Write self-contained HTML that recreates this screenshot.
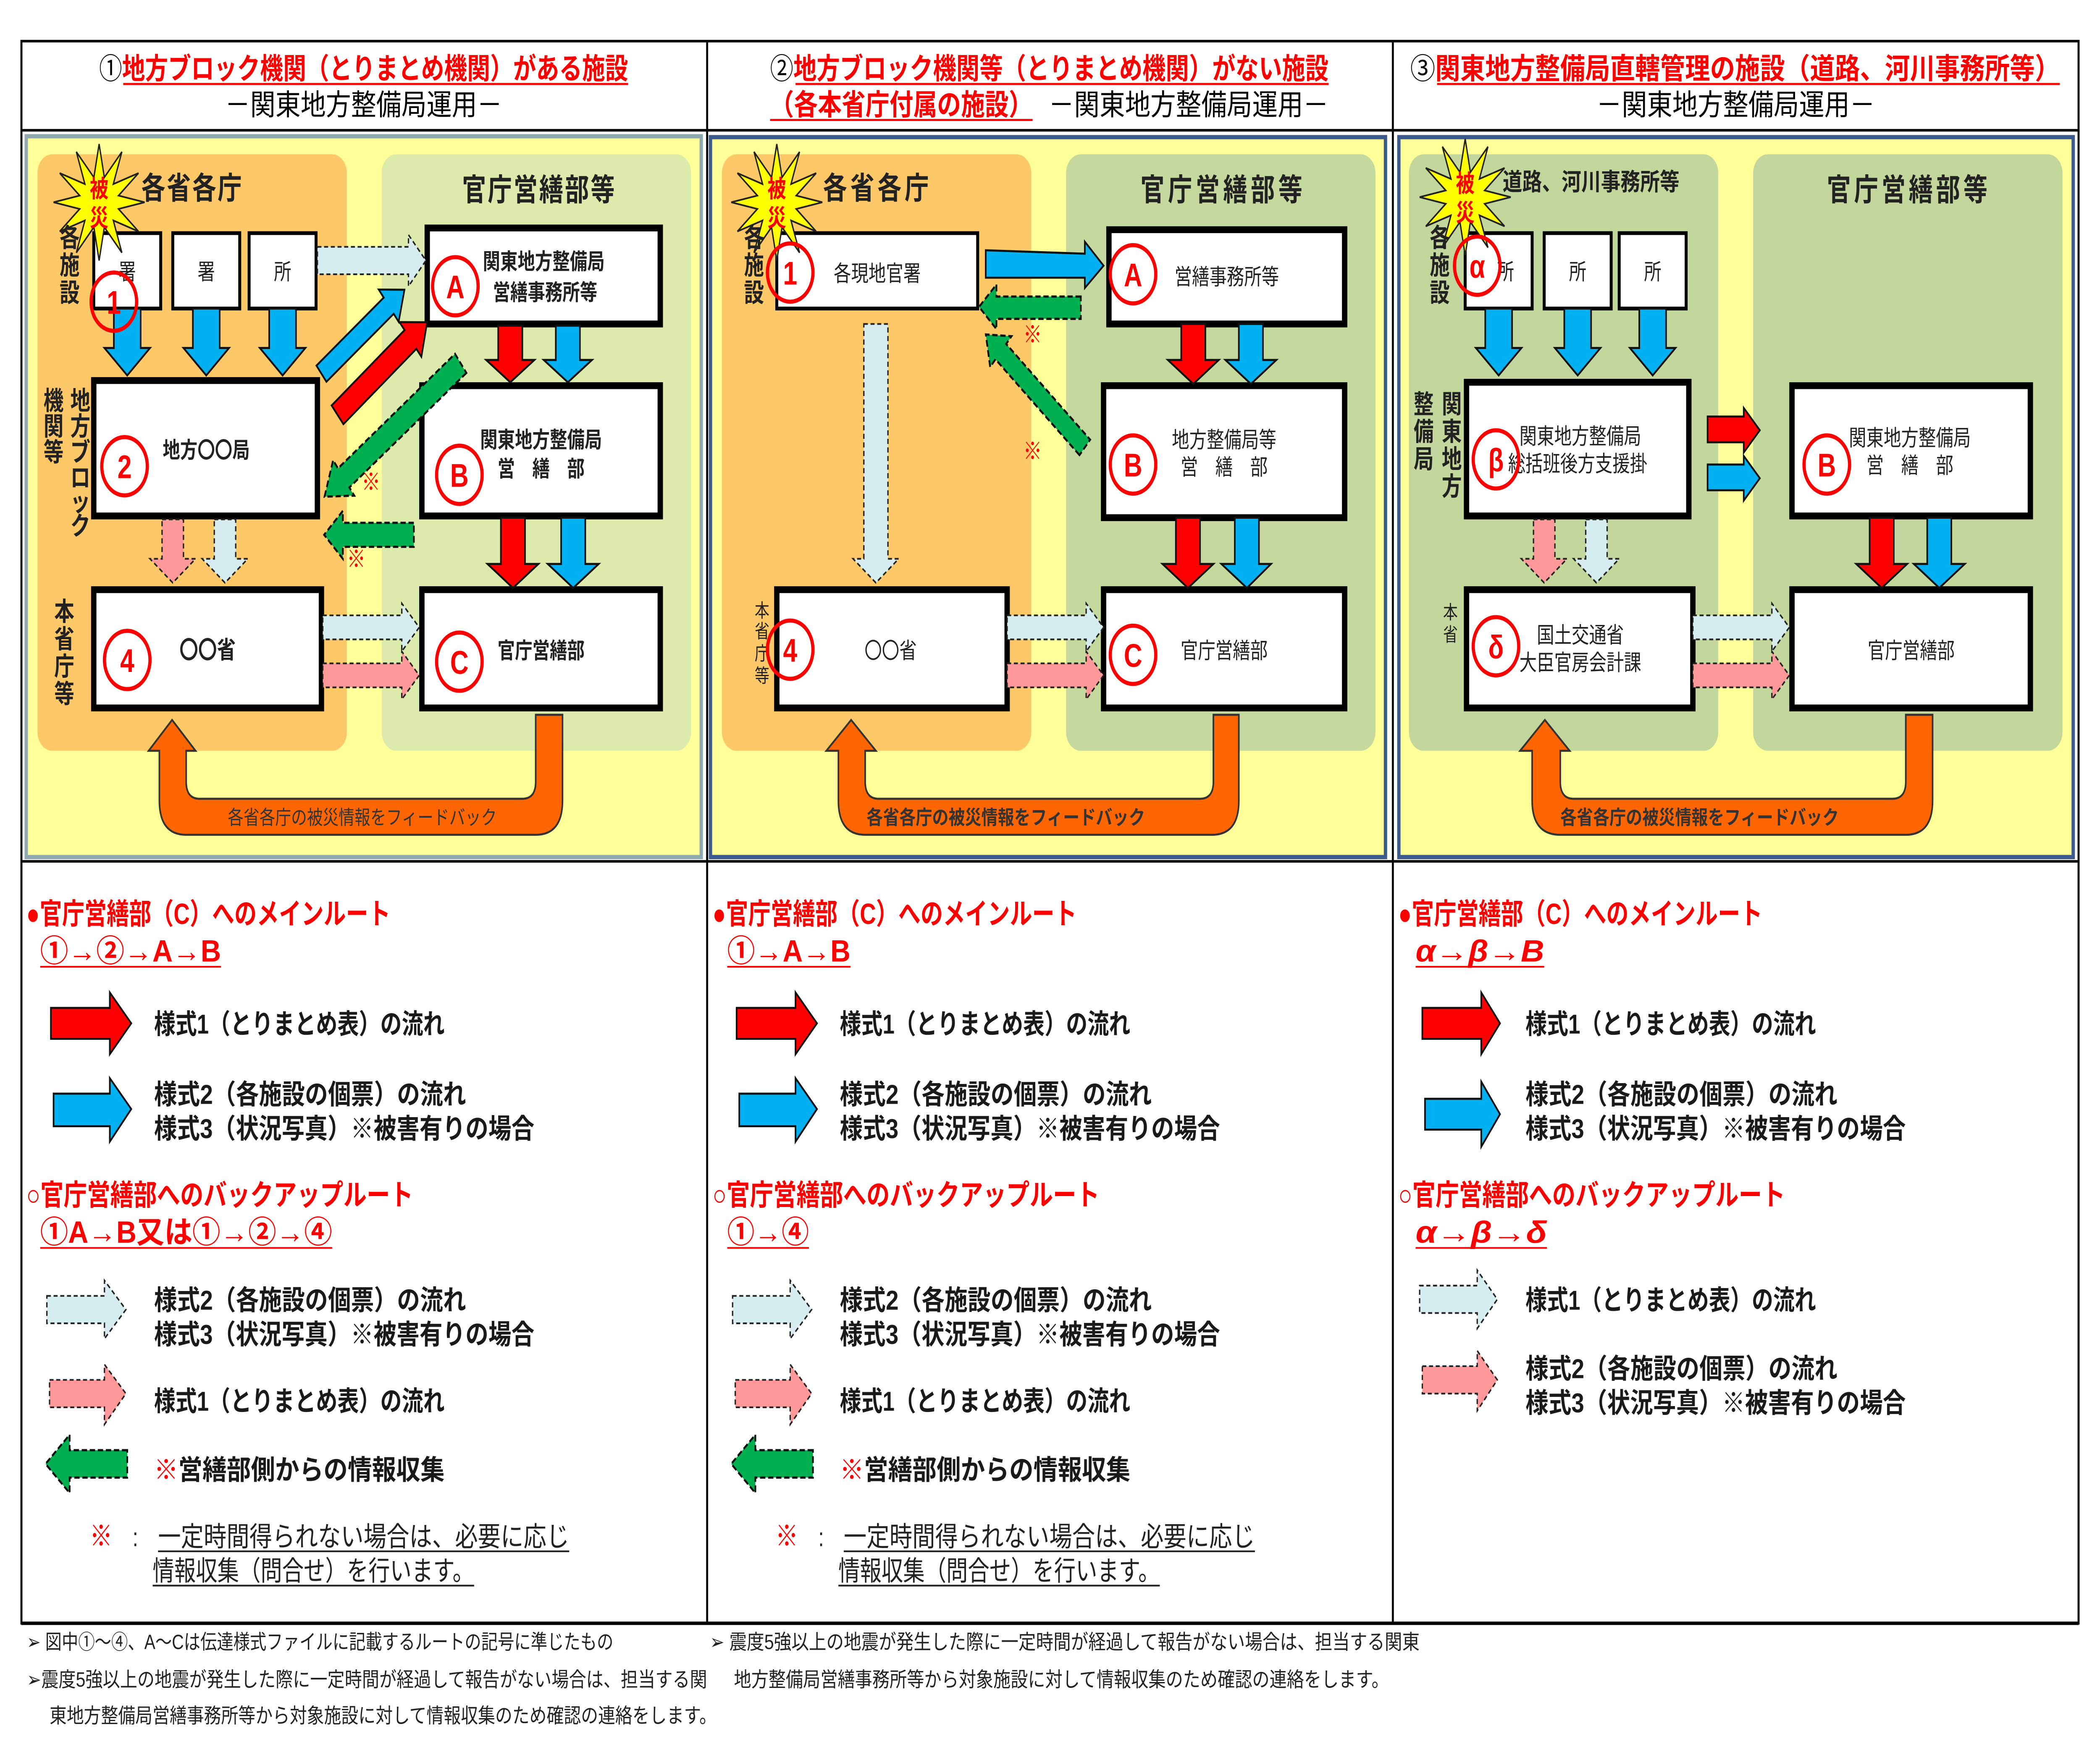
<!DOCTYPE html>
<html><head><meta charset="utf-8"><style>
html,body{margin:0;padding:0;background:#fff;width:100%;height:100%;overflow:hidden;}
#wrap{position:fixed;left:0;top:0;width:100vw;height:100vh;overflow:hidden;}
#wrap svg{display:block;width:100%;height:100%;}
text{font-family:"Liberation Sans","Noto Sans CJK JP",sans-serif;}
.r{fill:#ff0000;font-weight:bold;}
.lg{fill:#1a1a1a;font-weight:bold;font-size:16px;}
.bx{fill:#fff;stroke:#000;stroke-width:4;}
.sb{fill:#fff;stroke:#000;stroke-width:2.2;}
.ci{fill:none;stroke:#ff0000;stroke-width:2.4;}
.cn{fill:#ff0000;font-weight:bold;font-size:19px;text-anchor:middle;}
.rd{fill:#ff0000;stroke:#111;stroke-width:1.2;}
.bl{fill:#00b0f0;stroke:#111;stroke-width:1.2;}
.lb{fill:#d5ecf0;stroke:#222;stroke-width:1;stroke-dasharray:3 2;}
.pk{fill:#ff9999;stroke:#222;stroke-width:1;stroke-dasharray:3 2;}
.gr{fill:#00b050;stroke:#111;stroke-width:1.3;stroke-dasharray:4 2;}
.or{fill:#ff6600;stroke:#333;stroke-width:1.2;}
.bt{font-size:13px;text-anchor:middle;fill:#222;}
.vt{font-size:15px;font-weight:bold;fill:#222;text-anchor:middle;}
.ft{font-size:12px;fill:#222;}
</style></head><body>
<div id="wrap">
<svg viewBox="0 0 1568 1018" preserveAspectRatio="none" xmlns="http://www.w3.org/2000/svg">
<defs>
<g id="star">
<polygon points="108,118 88.5,114.1 103.4,101 84.6,107.4 91,88.6 77.9,103.5 74,84 70.1,103.5 57,88.6 63.4,107.4 44.6,101 59.5,114.1 40,118 59.5,121.9 44.6,135 63.4,128.6 57,147.4 70.1,132.5 74,152 77.9,132.5 91,147.4 84.6,128.6 103.4,135 88.5,121.9" fill="#ffff00" stroke="#222" stroke-width="1"/>
<text x="74" y="115" font-size="14" fill="#ff0000" font-weight="bold" text-anchor="middle">被</text>
<text x="74" y="132" font-size="14" fill="#ff0000" font-weight="bold" text-anchor="middle">災</text>
</g>
</defs>
<rect width="1568" height="1018" fill="#fff"/>

<!-- ============ PANEL 1 ============ -->
<rect x="19.6" y="79.5" width="504" height="420.5" fill="#ffff99" stroke="#8eaab0" stroke-width="2.5"/>
<rect x="28" y="90" width="231" height="348" rx="11" fill="#fcc868"/>
<rect x="285" y="90" width="231" height="348" rx="11" fill="#dcebab"/>
<text x="143" y="116" font-size="18" font-weight="bold" fill="#222" text-anchor="middle" textLength="75">各省各庁</text>
<text x="402" y="117" font-size="18" font-weight="bold" fill="#222" text-anchor="middle" textLength="114">官庁営繕部等</text>

<rect class="sb" x="70" y="136" width="50" height="44"/>
<rect class="sb" x="129" y="136" width="50" height="44"/>
<rect class="sb" x="186" y="136" width="50" height="44"/>
<text class="bt" x="95" y="163">署</text><text class="bt" x="154" y="163">署</text><text class="bt" x="211" y="163">所</text>
<polygon class="bl" points="85,180 105,180 105,203 112,203 95,219 78,203 85,203"/>
<polygon class="bl" points="144,180 164,180 164,203 171,203 154,219 137,203 144,203"/>
<polygon class="bl" points="201,180 221,180 221,203 228,203 211,219 194,203 201,203"/>

<rect class="bx" x="70" y="222" width="167" height="79"/>
<text x="154" y="267" font-size="13" font-weight="bold" fill="#222" text-anchor="middle">地方〇〇局</text>
<rect class="bx" x="70" y="344" width="170" height="69"/>
<text x="155" y="384" font-size="14" font-weight="bold" fill="#222" text-anchor="middle">〇〇省</text>

<rect class="bx" x="319" y="133" width="174" height="56"/>
<text class="bt" x="406" y="157" font-weight="bold">関東地方整備局</text>
<text class="bt" x="407" y="175" font-weight="bold">営繕事務所等</text>
<rect class="bx" x="315" y="225" width="178" height="76"/>
<text class="bt" x="404" y="261" font-weight="bold">関東地方整備局</text>
<text class="bt" x="404" y="278" font-weight="bold">営　繕　部</text>
<rect class="bx" x="315" y="344" width="178" height="69"/>
<text class="bt" x="404" y="384" font-weight="bold">官庁営繕部</text>

<polygon class="rd" points="372,190 390,190 390,210 399,210 381,223 363,210 372,210"/>
<polygon class="bl" points="415,190 433,190 433,210 442,210 424,223 406,210 415,210"/>
<polygon class="rd" points="374,302 392,302 392,329 402,329 383,343 364,329 374,329"/>
<polygon class="bl" points="419,302 437,302 437,329 447,329 428,343 409,329 419,329"/>

<polygon class="pk" points="121,303 137,303 137,326 146,326 129,340 112,326 121,326"/>
<polygon class="lb" points="160,303 176,303 176,326 185,326 168,340 151,326 160,326"/>
<polygon class="lb" points="237,144 305,144 305,137 318,152 305,167 305,160 237,160"/>
<g transform="translate(240,218) rotate(-38.3)"><polygon class="bl" points="0,-6 64,-6 64,-12 79,0 64,12 64,6 0,6"/></g>
<g transform="translate(252,242) rotate(-38.9)"><polygon class="rd" points="0,-7 70,-7 70,-13 86,0 70,13 70,7 0,7"/></g>
<g transform="translate(344,212) rotate(142.6)"><polygon class="gr" points="0,-7 110,-7 110,-13 128,0 110,13 110,7 0,7"/></g>
<polygon class="gr" points="309,305 256,305 256,298 242,312 256,326 256,319 309,319"/>
<text x="277" y="286" font-size="14" fill="#ff0000" text-anchor="middle">※</text>
<text x="266" y="331" font-size="14" fill="#ff0000" text-anchor="middle">※</text>
<polygon class="lb" points="241,359 300,359 300,352 313,366 300,380 300,373 241,373"/>
<polygon class="pk" points="241,387 300,387 300,380 313,394 300,408 300,401 241,401"/>

<path class="or" d="M400,417 L420,417 L420,467 Q420,487 400,487 L139,487 Q119,487 119,467 L119,438 L111,438 L128.5,420 L146,438 L139,438 L139,456 Q139,466 149,466 L390,466 Q400,466 400,456 Z"/>
<text x="170" y="481" font-size="11.5" fill="#333" textLength="201" lengthAdjust="spacingAndGlyphs">各省各庁の被災情報をフィードバック</text>

<use href="#star"/>
<text class="vt" x="52" y="144">各</text><text class="vt" x="52" y="160">施</text><text class="vt" x="52" y="176">設</text>
<text class="vt" x="60" y="239">地</text><text class="vt" x="60" y="254">方</text><text class="vt" x="60" y="269">ブ</text><text class="vt" x="60" y="284">ロ</text><text class="vt" x="60" y="298">ッ</text><text class="vt" x="60" y="312">ク</text>
<text class="vt" x="40" y="239">機</text><text class="vt" x="40" y="254">関</text><text class="vt" x="40" y="269">等</text>
<text class="vt" x="48" y="362">本</text><text class="vt" x="48" y="378">省</text><text class="vt" x="48" y="394">庁</text><text class="vt" x="48" y="410">等</text>

<circle class="ci" cx="85" cy="176" r="17"/><text class="cn" x="85" y="183">1</text>
<circle class="ci" cx="93" cy="272" r="17"/><text class="cn" x="93" y="279">2</text>
<circle class="ci" cx="95" cy="385" r="17"/><text class="cn" x="95" y="392">4</text>
<circle class="ci" cx="340" cy="167" r="17"/><text class="cn" x="340" y="174">A</text>
<circle class="ci" cx="343" cy="277" r="17"/><text class="cn" x="343" y="284">B</text>
<circle class="ci" cx="343" cy="386" r="17"/><text class="cn" x="343" y="393">C</text>

<!-- ============ PANEL 2 ============ -->
<rect x="530.5" y="80" width="504" height="420" fill="#ffff99" stroke="#3c5b8c" stroke-width="2.5"/>
<rect x="539" y="90" width="231" height="348" rx="11" fill="#fcc868"/>
<rect x="796" y="90" width="231" height="348" rx="11" fill="#c5d89e"/>
<text x="654" y="116" font-size="18" font-weight="bold" fill="#222" text-anchor="middle" textLength="79">各省各庁</text>
<text x="912" y="117" font-size="18" font-weight="bold" fill="#222" text-anchor="middle" textLength="121">官庁営繕部等</text>

<rect class="sb" x="580" y="136" width="150" height="44"/>
<text class="bt" x="655" y="164">各現地官署</text>
<rect class="bx" x="828" y="134" width="176" height="55"/>
<text class="bt" x="916" y="166">営繕事務所等</text>
<rect class="bx" x="824" y="225" width="180" height="77"/>
<text class="bt" x="914" y="261">地方整備局等</text>
<text class="bt" x="914" y="277">営　繕　部</text>
<rect class="bx" x="824" y="344" width="180" height="69"/>
<text class="bt" x="914" y="384">官庁営繕部</text>
<rect class="bx" x="580" y="344" width="172" height="69"/>
<text class="bt" x="665" y="384" font-size="14">〇〇省</text>

<polygon class="bl" points="736,146 810,148 810,141 824,155 810,168 810,162 736,162"/>
<polygon class="gr" points="807,173 744,173 744,166 731,179 744,192 744,186 807,186"/>
<g transform="translate(810,261) rotate(221.7)"><polygon class="gr" points="0,-6 84,-6 84,-12 99,0 84,12 84,6 0,6"/></g>
<text x="771" y="200" font-size="14" fill="#ff0000" text-anchor="middle">※</text>
<text x="771" y="268" font-size="14" fill="#ff0000" text-anchor="middle">※</text>
<polygon class="rd" points="882,189 900,189 900,210 910,210 891,224 872,210 882,210"/>
<polygon class="bl" points="925,189 943,189 943,210 953,210 934,224 915,210 925,210"/>
<polygon class="rd" points="878,302 896,302 896,329 906,329 887,343 868,329 878,329"/>
<polygon class="bl" points="922,302 940,302 940,329 949,329 931,343 912,329 922,329"/>
<polygon class="lb" points="645,189 663,189 663,326 671,326 654,340 637,326 645,326"/>
<polygon class="lb" points="752,359 811,359 811,352 824,366 811,380 811,373 752,373"/>
<polygon class="pk" points="752,387 811,387 811,380 824,394 811,408 811,401 752,401"/>

<path class="or" d="M906,417 L925,417 L925,467 Q925,487 905,487 L646,487 Q626,487 626,467 L626,438 L617,438 L635.5,420 L654,438 L646,438 L646,456 Q646,466 656,466 L896,466 Q906,466 906,456 Z"/>
<text x="647" y="481" font-size="11.5" fill="#333" font-weight="bold" textLength="208" lengthAdjust="spacingAndGlyphs">各省各庁の被災情報をフィードバック</text>

<use href="#star" transform="translate(506,0)"/>
<text class="vt" x="563" y="144">各</text><text class="vt" x="563" y="160">施</text><text class="vt" x="563" y="176">設</text>
<text x="569" y="360" font-size="11" fill="#222" text-anchor="middle">本</text><text x="569" y="372" font-size="11" fill="#222" text-anchor="middle">省</text><text x="569" y="385" font-size="11" fill="#222" text-anchor="middle">庁</text><text x="569" y="398" font-size="11" fill="#222" text-anchor="middle">等</text>

<circle class="ci" cx="590" cy="159" r="17"/><text class="cn" x="590" y="166">1</text>
<circle class="ci" cx="590" cy="379" r="17"/><text class="cn" x="590" y="386">4</text>
<circle class="ci" cx="846" cy="160" r="17"/><text class="cn" x="846" y="167">A</text>
<circle class="ci" cx="846" cy="271" r="17"/><text class="cn" x="846" y="278">B</text>
<circle class="ci" cx="846" cy="382" r="17"/><text class="cn" x="846" y="389">C</text>

<!-- ============ PANEL 3 ============ -->
<rect x="1044.5" y="80" width="503.5" height="420" fill="#ffff99" stroke="#3c5b8c" stroke-width="2.5"/>
<rect x="1052" y="90" width="231" height="348" rx="11" fill="#c3d69b"/>
<rect x="1309" y="90" width="231" height="348" rx="11" fill="#c3d69b"/>
<text x="1122" y="111" font-size="14" font-weight="bold" fill="#222" textLength="132" lengthAdjust="spacingAndGlyphs">道路、河川事務所等</text>
<text x="1424" y="117" font-size="18" font-weight="bold" fill="#222" text-anchor="middle" textLength="120">官庁営繕部等</text>

<rect class="sb" x="1094" y="136" width="50" height="44"/>
<rect class="sb" x="1153" y="136" width="50" height="44"/>
<rect class="sb" x="1209" y="136" width="50" height="44"/>
<text class="bt" x="1124" y="163">所</text><text class="bt" x="1178" y="163">所</text><text class="bt" x="1234" y="163">所</text>
<polygon class="bl" points="1109,180 1129,180 1129,203 1136,203 1119,219 1102,203 1109,203"/>
<polygon class="bl" points="1168,180 1188,180 1188,203 1195,203 1178,219 1161,203 1168,203"/>
<polygon class="bl" points="1224,180 1244,180 1244,203 1251,203 1234,219 1217,203 1224,203"/>

<rect class="bx" x="1095" y="223" width="166" height="78"/>
<text class="bt" x="1180" y="259">関東地方整備局</text>
<text class="bt" x="1178" y="275">総括班後方支援掛</text>
<rect class="bx" x="1338" y="225" width="178" height="76"/>
<text class="bt" x="1426" y="260">関東地方整備局</text>
<text class="bt" x="1426" y="276">営　繕　部</text>
<rect class="bx" x="1095" y="344" width="169" height="69"/>
<text class="bt" x="1180" y="375">国土交通省</text>
<text class="bt" x="1180" y="391">大臣官房会計課</text>
<rect class="bx" x="1338" y="344" width="178" height="69"/>
<text class="bt" x="1427" y="384">官庁営繕部</text>

<polygon class="rd" points="1275,243 1302,243 1302,238 1314,251 1302,264 1302,258 1275,258"/>
<polygon class="bl" points="1275,271 1302,271 1302,266 1314,279 1302,292 1302,286 1275,286"/>
<polygon class="rd" points="1396,302 1414,302 1414,329 1424,329 1405,343 1386,329 1396,329"/>
<polygon class="bl" points="1439,302 1457,302 1457,329 1467,329 1448,343 1429,329 1439,329"/>
<polygon class="pk" points="1145,303 1161,303 1161,326 1170,326 1153,340 1136,326 1145,326"/>
<polygon class="lb" points="1184,303 1200,303 1200,326 1209,326 1192,340 1175,326 1184,326"/>
<polygon class="lb" points="1264,359 1323,359 1323,352 1336,366 1323,380 1323,373 1264,373"/>
<polygon class="pk" points="1264,387 1323,387 1323,380 1336,394 1323,408 1323,401 1264,401"/>

<path class="or" d="M1423,417 L1443,417 L1443,467 Q1443,487 1423,487 L1165,487 Q1144,487 1144,467 L1144,438 L1135,438 L1153.5,420 L1172,438 L1165,438 L1165,456 Q1165,466 1175,466 L1413,466 Q1423,466 1423,456 Z"/>
<text x="1165" y="481" font-size="11.5" fill="#333" font-weight="bold" textLength="208" lengthAdjust="spacingAndGlyphs">各省各庁の被災情報をフィードバック</text>

<use href="#star" transform="translate(1020,-3)"/>
<text class="vt" x="1075" y="144">各</text><text class="vt" x="1075" y="160">施</text><text class="vt" x="1075" y="176">設</text>
<text class="vt" x="1084" y="241">関</text><text class="vt" x="1084" y="257">東</text><text class="vt" x="1084" y="273">地</text><text class="vt" x="1084" y="289">方</text>
<text class="vt" x="1063" y="241">整</text><text class="vt" x="1063" y="257">備</text><text class="vt" x="1063" y="273">局</text>
<text x="1083" y="361" font-size="11" fill="#222" text-anchor="middle">本</text><text x="1083" y="374" font-size="11" fill="#222" text-anchor="middle">省</text>

<circle class="ci" cx="1103" cy="155" r="17"/><text class="cn" x="1103" y="162">α</text>
<circle class="ci" cx="1117" cy="268" r="17"/><text class="cn" x="1117" y="275">β</text>
<circle class="ci" cx="1117" cy="377" r="17"/><text class="cn" x="1117" y="384">δ</text>
<circle class="ci" cx="1364" cy="271" r="17"/><text class="cn" x="1364" y="278">B</text>

<!-- ============ TABLE LINES & TITLES ============ -->
<rect x="16" y="24" width="1536" height="923" fill="none" stroke="#000" stroke-width="1.5"/>
<line x1="16" y1="76" x2="1552" y2="76" stroke="#000" stroke-width="1.5"/>
<line x1="16" y1="502.5" x2="1552" y2="502.5" stroke="#000" stroke-width="1.5"/>
<line x1="16" y1="947" x2="1552" y2="947" stroke="#000" stroke-width="2"/>
<line x1="528" y1="24" x2="528" y2="947" stroke="#000" stroke-width="1.5"/>
<line x1="1040" y1="24" x2="1040" y2="947" stroke="#000" stroke-width="1.5"/>

<text x="74" y="46" font-size="17" textLength="395" lengthAdjust="spacingAndGlyphs"><tspan fill="#000">①</tspan><tspan class="r">地方ブロック機関（とりまとめ機関）がある施設</tspan></text>
<line x1="92" y1="49" x2="469" y2="49" stroke="#ff0000" stroke-width="1.2"/>
<text x="168" y="67" font-size="17" fill="#000" textLength="207" lengthAdjust="spacingAndGlyphs">－関東地方整備局運用－</text>

<text x="575" y="46" font-size="17" textLength="417" lengthAdjust="spacingAndGlyphs"><tspan fill="#000">②</tspan><tspan class="r">地方ブロック機関等（とりまとめ機関）がない施設</tspan></text>
<line x1="594" y1="49" x2="992" y2="49" stroke="#ff0000" stroke-width="1.2"/>
<text x="575" y="67" font-size="17" class="r" textLength="196" lengthAdjust="spacingAndGlyphs">（各本省庁付属の施設）</text>
<line x1="575" y1="70" x2="771" y2="70" stroke="#ff0000" stroke-width="1.2"/>
<text x="783" y="67" font-size="17" fill="#000" textLength="209" lengthAdjust="spacingAndGlyphs">－関東地方整備局運用－</text>

<text x="1053" y="46" font-size="17" textLength="485" lengthAdjust="spacingAndGlyphs"><tspan fill="#000">③</tspan><tspan class="r">関東地方整備局直轄管理の施設（道路、河川事務所等）</tspan></text>
<line x1="1073" y1="49" x2="1538" y2="49" stroke="#ff0000" stroke-width="1.2"/>
<text x="1192" y="67" font-size="17" fill="#000" textLength="208" lengthAdjust="spacingAndGlyphs">－関東地方整備局運用－</text>

<!-- ============ LOWER: PANEL 1 ============ -->
<text x="19.6" y="539" font-size="17" class="r" textLength="272" lengthAdjust="spacingAndGlyphs">●官庁営繕部（C）へのメインルート</text>
<text x="30" y="561" font-size="18" class="r" textLength="135" lengthAdjust="spacingAndGlyphs">①→②→A→B</text>
<line x1="30" y1="564" x2="165" y2="564" stroke="#ff0000" stroke-width="1"/>
<polygon class="rd" points="38,588 82,588 82,579 98,597 82,615 82,606 38,606" stroke="#1f3864" stroke-width="1.5"/>
<polygon class="bl" points="40,638 82,638 82,629 98,647 82,666 82,657 40,657" stroke="#1f3864" stroke-width="1.5"/>
<text x="115" y="603" class="lg" textLength="217" lengthAdjust="spacingAndGlyphs">様式1（とりまとめ表）の流れ</text>
<text x="115" y="644" class="lg" textLength="233" lengthAdjust="spacingAndGlyphs">様式2（各施設の個票）の流れ</text>
<text x="115" y="664" class="lg" textLength="284" lengthAdjust="spacingAndGlyphs">様式3（状況写真）※被害有りの場合</text>
<text x="19.6" y="703" font-size="17" class="r" textLength="289" lengthAdjust="spacingAndGlyphs">○官庁営繕部へのバックアップルート</text>
<text x="30" y="725" font-size="18" class="r" textLength="218" lengthAdjust="spacingAndGlyphs">①A→B又は①→②→④</text>
<line x1="30" y1="728" x2="248" y2="728" stroke="#ff0000" stroke-width="1"/>
<polygon class="lb" points="35,756 78,756 78,747 94,764 78,781 78,772 35,772" stroke="#1f3864" stroke-width="1.5"/>
<polygon class="pk" points="37,805 78,805 78,796 94,813 78,831 78,821 37,821" stroke="#1f3864" stroke-width="1.5"/>
<polygon class="gr" points="95,846 52,846 52,837 34,854 52,871 52,862 95,862" stroke="#1f3864" stroke-width="1.5"/>
<text x="115" y="764" class="lg" textLength="233" lengthAdjust="spacingAndGlyphs">様式2（各施設の個票）の流れ</text>
<text x="115" y="784" class="lg" textLength="284" lengthAdjust="spacingAndGlyphs">様式3（状況写真）※被害有りの場合</text>
<text x="115" y="823" class="lg" textLength="217" lengthAdjust="spacingAndGlyphs">様式1（とりまとめ表）の流れ</text>
<text x="115" y="863" class="lg" textLength="217" lengthAdjust="spacingAndGlyphs"><tspan fill="#ff0000">※</tspan>営繕部側からの情報収集</text>
<text x="67" y="902" font-size="17" fill="#ff0000">※</text>
<text x="99" y="902" font-size="15" fill="#222">:</text>
<text x="118" y="902" font-size="16" fill="#222" textLength="307" lengthAdjust="spacingAndGlyphs">一定時間得られない場合は、必要に応じ</text>
<line x1="118" y1="905" x2="425" y2="905" stroke="#222" stroke-width="1"/>
<text x="114" y="922" font-size="16" fill="#222" textLength="240" lengthAdjust="spacingAndGlyphs">情報収集（問合せ）を行います。</text>
<line x1="114" y1="925" x2="354" y2="925" stroke="#222" stroke-width="1"/>

<!-- ============ LOWER: PANEL 2 ============ -->
<text x="532" y="539" font-size="17" class="r" textLength="272" lengthAdjust="spacingAndGlyphs">●官庁営繕部（C）へのメインルート</text>
<text x="543" y="561" font-size="18" class="r" textLength="92" lengthAdjust="spacingAndGlyphs">①→A→B</text>
<line x1="543" y1="564" x2="635" y2="564" stroke="#ff0000" stroke-width="1"/>
<polygon class="rd" points="550,588 594,588 594,579 610,597 594,615 594,606 550,606" stroke="#1f3864" stroke-width="1.5"/>
<polygon class="bl" points="552,638 594,638 594,629 610,647 594,666 594,657 552,657" stroke="#1f3864" stroke-width="1.5"/>
<text x="627" y="603" class="lg" textLength="217" lengthAdjust="spacingAndGlyphs">様式1（とりまとめ表）の流れ</text>
<text x="627" y="644" class="lg" textLength="233" lengthAdjust="spacingAndGlyphs">様式2（各施設の個票）の流れ</text>
<text x="627" y="664" class="lg" textLength="284" lengthAdjust="spacingAndGlyphs">様式3（状況写真）※被害有りの場合</text>
<text x="532" y="703" font-size="17" class="r" textLength="289" lengthAdjust="spacingAndGlyphs">○官庁営繕部へのバックアップルート</text>
<text x="543" y="725" font-size="18" class="r" textLength="61" lengthAdjust="spacingAndGlyphs">①→④</text>
<line x1="543" y1="728" x2="604" y2="728" stroke="#ff0000" stroke-width="1"/>
<polygon class="lb" points="547,756 590,756 590,747 606,764 590,781 590,772 547,772" stroke="#1f3864" stroke-width="1.5"/>
<polygon class="pk" points="549,805 590,805 590,796 606,813 590,831 590,821 549,821" stroke="#1f3864" stroke-width="1.5"/>
<polygon class="gr" points="607,846 564,846 564,837 546,854 564,871 564,862 607,862" stroke="#1f3864" stroke-width="1.5"/>
<text x="627" y="764" class="lg" textLength="233" lengthAdjust="spacingAndGlyphs">様式2（各施設の個票）の流れ</text>
<text x="627" y="784" class="lg" textLength="284" lengthAdjust="spacingAndGlyphs">様式3（状況写真）※被害有りの場合</text>
<text x="627" y="823" class="lg" textLength="217" lengthAdjust="spacingAndGlyphs">様式1（とりまとめ表）の流れ</text>
<text x="627" y="863" class="lg" textLength="217" lengthAdjust="spacingAndGlyphs"><tspan fill="#ff0000">※</tspan>営繕部側からの情報収集</text>
<text x="579" y="902" font-size="17" fill="#ff0000">※</text>
<text x="611" y="902" font-size="15" fill="#222">:</text>
<text x="630" y="902" font-size="16" fill="#222" textLength="307" lengthAdjust="spacingAndGlyphs">一定時間得られない場合は、必要に応じ</text>
<line x1="630" y1="905" x2="937" y2="905" stroke="#222" stroke-width="1"/>
<text x="626" y="922" font-size="16" fill="#222" textLength="240" lengthAdjust="spacingAndGlyphs">情報収集（問合せ）を行います。</text>
<line x1="626" y1="925" x2="866" y2="925" stroke="#222" stroke-width="1"/>

<!-- ============ LOWER: PANEL 3 ============ -->
<text x="1044" y="539" font-size="17" class="r" textLength="272" lengthAdjust="spacingAndGlyphs">●官庁営繕部（C）へのメインルート</text>
<text x="1057" y="561" font-size="18" class="r" font-style="italic" textLength="96" lengthAdjust="spacingAndGlyphs">α→β→B</text>
<line x1="1057" y1="564" x2="1153" y2="564" stroke="#ff0000" stroke-width="1"/>
<polygon class="rd" points="1062,588 1106,588 1106,579 1120,597 1106,615 1106,606 1062,606" stroke="#1f3864" stroke-width="1.5"/>
<polygon class="bl" points="1064,641 1106,641 1106,631 1120,650 1106,669 1106,659 1064,659" stroke="#1f3864" stroke-width="1.5"/>
<text x="1139" y="603" class="lg" textLength="217" lengthAdjust="spacingAndGlyphs">様式1（とりまとめ表）の流れ</text>
<text x="1139" y="644" class="lg" textLength="233" lengthAdjust="spacingAndGlyphs">様式2（各施設の個票）の流れ</text>
<text x="1139" y="664" class="lg" textLength="284" lengthAdjust="spacingAndGlyphs">様式3（状況写真）※被害有りの場合</text>
<text x="1044" y="703" font-size="17" class="r" textLength="289" lengthAdjust="spacingAndGlyphs">○官庁営繕部へのバックアップルート</text>
<text x="1057" y="725" font-size="18" class="r" font-style="italic" textLength="98" lengthAdjust="spacingAndGlyphs">α→β→δ</text>
<line x1="1057" y1="728" x2="1155" y2="728" stroke="#ff0000" stroke-width="1"/>
<polygon class="lb" points="1060,750 1103,750 1103,741 1118,758 1103,775 1103,766 1060,766" stroke="#1f3864" stroke-width="1.5"/>
<polygon class="pk" points="1062,797 1103,797 1103,788 1118,805 1103,823 1103,813 1062,813" stroke="#1f3864" stroke-width="1.5"/>
<text x="1139" y="764" class="lg" textLength="217" lengthAdjust="spacingAndGlyphs">様式1（とりまとめ表）の流れ</text>
<text x="1139" y="804" class="lg" textLength="233" lengthAdjust="spacingAndGlyphs">様式2（各施設の個票）の流れ</text>
<text x="1139" y="824" class="lg" textLength="284" lengthAdjust="spacingAndGlyphs">様式3（状況写真）※被害有りの場合</text>

<!-- ============ FOOTER ============ -->
<text x="20" y="962" class="ft" textLength="438" lengthAdjust="spacingAndGlyphs">➢ 図中①～④、A～Cは伝達様式ファイルに記載するルートの記号に準じたもの</text>
<text x="20" y="984" class="ft" textLength="508" lengthAdjust="spacingAndGlyphs">➢震度5強以上の地震が発生した際に一定時間が経過して報告がない場合は、担当する関</text>
<text x="37" y="1005" class="ft" textLength="498" lengthAdjust="spacingAndGlyphs">東地方整備局営繕事務所等から対象施設に対して情報収集のため確認の連絡をします。</text>
<text x="530" y="962" class="ft" textLength="530" lengthAdjust="spacingAndGlyphs">➢ 震度5強以上の地震が発生した際に一定時間が経過して報告がない場合は、担当する関東</text>
<text x="548" y="984" class="ft" textLength="489" lengthAdjust="spacingAndGlyphs">地方整備局営繕事務所等から対象施設に対して情報収集のため確認の連絡をします。</text>
</svg>
</div>
</body></html>
